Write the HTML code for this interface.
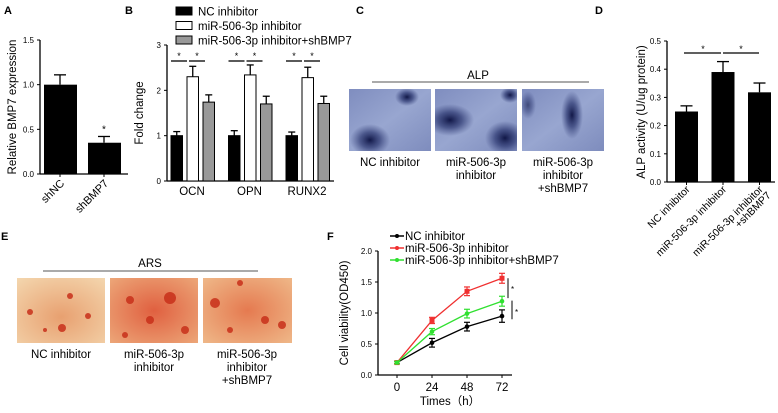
<!DOCTYPE html>
<html><head><meta charset="utf-8"><style>
body{margin:0;background:#fff;font-family:"Liberation Sans",sans-serif}
svg text{font-family:"Liberation Sans","Noto Sans CJK SC",sans-serif}
</style></head><body>
<svg id="fig" width="778" height="408" viewBox="0 0 778 408" xmlns="http://www.w3.org/2000/svg">
<defs>
<radialGradient id="blob"><stop offset="0" stop-color="#0a1040" stop-opacity="0.95"/><stop offset="0.5" stop-color="#1a2560" stop-opacity="0.6"/><stop offset="1" stop-color="#2a3570" stop-opacity="0"/></radialGradient>
<linearGradient id="blueBase" x1="0" y1="0" x2="1" y2="1"><stop offset="0" stop-color="#7f8dbf"/><stop offset="0.5" stop-color="#98a6d0"/><stop offset="1" stop-color="#7e8cbd"/></linearGradient>
<radialGradient id="redA" cx="0.5" cy="0.6" r="0.8"><stop offset="0" stop-color="#e8a070"/><stop offset="1" stop-color="#f4d8b0"/></radialGradient>
<radialGradient id="redB" cx="0.5" cy="0.5" r="0.8"><stop offset="0" stop-color="#e06040"/><stop offset="1" stop-color="#eeb080"/></radialGradient>
<radialGradient id="redC" cx="0.5" cy="0.5" r="0.8"><stop offset="0" stop-color="#e57a50"/><stop offset="1" stop-color="#f0c090"/></radialGradient>
<clipPath id="c1"><rect x="349" y="89" width="82" height="62"/></clipPath>
<clipPath id="c2"><rect x="435" y="89" width="82" height="62"/></clipPath>
<clipPath id="c3"><rect x="522" y="89" width="82" height="62"/></clipPath>
</defs>
<g font-weight="bold" font-size="11">
<text x="4" y="14">A</text>
<text x="125" y="14">B</text>
<text x="356" y="14">C</text>
<text x="595" y="14">D</text>
<text x="1" y="240">E</text>
<text x="327" y="240">F</text>
</g>
<g id="A"></g>
<g id="B"></g>
<g id="D"></g>
<g id="F"></g>
<g font-size="11.5" text-anchor="middle">
<text x="478" y="79">ALP</text>
<line x1="372" y1="82" x2="589" y2="82" stroke="#555" stroke-width="1"/>
<g clip-path="url(#c1)">
<rect x="349" y="89" width="82" height="62" fill="url(#blueBase)"/>
<ellipse cx="370" cy="140" rx="20" ry="16" fill="url(#blob)"/>
<ellipse cx="407" cy="97" rx="12" ry="9" fill="url(#blob)"/>
</g>
<g clip-path="url(#c2)">
<rect x="435" y="89" width="82" height="62" fill="url(#blueBase)"/>
<ellipse cx="450" cy="120" rx="24" ry="16" fill="url(#blob)"/>
<ellipse cx="505" cy="138" rx="20" ry="17" fill="url(#blob)"/>
<ellipse cx="510" cy="95" rx="10" ry="8" fill="url(#blob)"/>
</g>
<g clip-path="url(#c3)">
<rect x="522" y="89" width="82" height="62" fill="url(#blueBase)"/>
<ellipse cx="572" cy="115" rx="11" ry="24" fill="url(#blob)"/>
<ellipse cx="528" cy="105" rx="8" ry="14" fill="url(#blob)" opacity="0.6"/>
</g>
<text x="390" y="166">NC inhibitor</text>
<text x="476" y="166">miR-506-3p</text><text x="476" y="179">inhibitor</text>
<text x="563" y="166">miR-506-3p</text><text x="563" y="179">inhibitor</text><text x="563" y="192">+shBMP7</text>
</g>
<g font-size="11.5" text-anchor="middle">
<text x="150" y="267">ARS</text>
<line x1="43" y1="271" x2="258" y2="271" stroke="#555" stroke-width="1"/>
<rect x="17" y="278" width="88" height="65" fill="url(#redA)"/>
<rect x="110" y="278" width="88" height="65" fill="url(#redB)"/>
<rect x="203" y="278" width="89" height="65" fill="url(#redC)"/>
<g fill="#c8301a" opacity="0.85">
<circle cx="30" cy="312" r="3"/><circle cx="70" cy="296" r="3"/><circle cx="62" cy="328" r="4"/><circle cx="88" cy="316" r="3"/><circle cx="45" cy="330" r="2"/>
<circle cx="130" cy="300" r="4"/><circle cx="170" cy="298" r="6"/><circle cx="150" cy="320" r="4"/><circle cx="185" cy="330" r="4"/><circle cx="125" cy="335" r="3"/>
<circle cx="215" cy="303" r="5"/><circle cx="240" cy="283" r="3"/><circle cx="265" cy="320" r="4"/><circle cx="282" cy="325" r="4"/><circle cx="230" cy="330" r="3"/>
</g>
<text x="61" y="358">NC inhibitor</text>
<text x="154" y="358">miR-506-3p</text><text x="154" y="371">inhibitor</text>
<text x="247" y="358">miR-506-3p</text><text x="247" y="371">inhibitor</text><text x="247" y="384">+shBMP7</text>
</g>
</svg>
<script>
const NS='http://www.w3.org/2000/svg';
function mk(p,t,a,txt){const e=document.createElementNS(NS,t);for(const k in a)e.setAttribute(k,a[k]);if(txt!==undefined)e.textContent=txt;p.appendChild(e);return e;}

const aCats=['shNC','shBMP7'];
const aVals=[1.0,0.35];
const aErr=[0.11,0.07];
const aTicks=[0,0.5,1.0,1.5];
const aTickLabels=['0.0','0.5','1.0','1.5'];
const bCats=['OCN','OPN','RUNX2'];
const bSeries=['NC inhibitor','miR-506-3p inhibitor','miR-506-3p inhibitor+shBMP7'];
const bNC=[1.0,1.0,1.0];
const bMir=[2.3,2.34,2.28];
const bSh=[1.74,1.7,1.71];
const bNCErr=[0.09,0.11,0.08];
const bMirErr=[0.23,0.22,0.23];
const bShErr=[0.16,0.17,0.16];
const bTicks=[0,1,2,3];
const dCats=['NC inhibitor','miR-506-3p inhibitor','miR-506-3p inhibitor +shBMP7'];
const dVals=[0.25,0.39,0.318];
const dErr=[0.02,0.037,0.033];
const dTicks=[0,0.1,0.2,0.3,0.4,0.5];
const dTickLabels=['0.0','0.1','0.2','0.3','0.4','0.5'];
const fTimes=[0,24,48,72];
const fNC=[0.2,0.52,0.78,0.95];
const fMir=[0.2,0.88,1.35,1.56];
const fSh=[0.2,0.7,0.99,1.19];
const fNCErr=[0.02,0.07,0.07,0.1];
const fMirErr=[0.02,0.05,0.07,0.08];
const fShErr=[0.02,0.05,0.07,0.08];
const fTicks=[0,0.5,1.0,1.5,2.0];
const fTickLabels=['0.0','0.5','1.0','1.5','2.0'];

function errBar(g,x,y1,y2,hw){mk(g,'line',{x1:x,y1:y1,x2:x,y2:y2,stroke:'#000','stroke-width':1.3});mk(g,'line',{x1:x-hw,y1:y2,x2:x+hw,y2:y2,stroke:'#000','stroke-width':1.3});}

(function(){
const g=document.getElementById('A');
const y=v=>174-v/1.5*134;
mk(g,'line',{x1:40,y1:40,x2:40,y2:174,stroke:'#000','stroke-width':1.3});
mk(g,'line',{x1:40,y1:174,x2:128,y2:174,stroke:'#000','stroke-width':1.3});
aTicks.forEach((t,i)=>{mk(g,'line',{x1:37,y1:y(t),x2:40,y2:y(t),stroke:'#000'});mk(g,'text',{x:34,y:y(t)+3,'font-size':8,'text-anchor':'end'},aTickLabels[i]);});
mk(g,'text',{x:0,y:0,'font-size':11.5,'text-anchor':'middle',transform:'translate(16,107) rotate(-90)'},'Relative BMP7 expression');
aCats.forEach((c,i)=>{const cx=60+i*44;
 const r=mk(g,'rect',{x:cx-16,y:y(aVals[i]),width:33,height:174-y(aVals[i]),fill:'#000'});
 
 
 errBar(g,cx,y(aVals[i]),y(aVals[i]+aErr[i]),6);
 mk(g,'line',{x1:cx,y1:174,x2:cx,y2:177,stroke:'#000'});
 mk(g,'text',{x:0,y:0,'font-size':11,'text-anchor':'end',transform:`translate(${cx+5},${184}) rotate(-45)`},c);
});
mk(g,'text',{x:104,y:y(aVals[1]+aErr[1])-4,'font-size':10,'text-anchor':'middle'},'*');
})();

(function(){
const g=document.getElementById('B');
const y=v=>181-v/3*136;
mk(g,'line',{x1:167,y1:45,x2:167,y2:181,stroke:'#000','stroke-width':1.3});
mk(g,'line',{x1:167,y1:181,x2:334,y2:181,stroke:'#000','stroke-width':1.3});
bTicks.forEach(t=>{mk(g,'line',{x1:164,y1:y(t),x2:167,y2:y(t),stroke:'#000'});mk(g,'text',{x:161,y:y(t)+3,'font-size':8,'text-anchor':'end'},String(t));});
mk(g,'text',{x:0,y:0,'font-size':11.5,'text-anchor':'middle',transform:'translate(143,113) rotate(-90)'},'Fold change');
const fills=['#000','#fff','#999'];
bSeries.forEach((s,i)=>{const ly=11+i*14.5;
 mk(g,'rect',{x:176,y:ly-4,width:16,height:8,fill:fills[i],stroke:'#000','stroke-width':1});
 mk(g,'text',{x:198,y:ly+4.5,'font-size':11.5},s);});
const sets=[[bNC,bNCErr],[bMir,bMirErr],[bSh,bShErr]];
bCats.forEach((c,ci)=>{const x0=171+ci*57.5;
 sets.forEach((sv,si)=>{const x=x0+si*16;const v=sv[0][ci];
  const r=mk(g,'rect',{x:x,y:y(v),width:11.5,height:181-y(v),fill:fills[si],stroke:'#000','stroke-width':1});
  
  
  errBar(g,x+5.75,y(v),y(v+sv[1][ci]),3.5);
 });
 mk(g,'text',{x:x0+21,y:195,'font-size':11.5,'text-anchor':'middle'},c);
 const ly=61;
 mk(g,'line',{x1:x0,y1:ly,x2:x0+16,y2:ly,stroke:'#000','stroke-width':1.3});
 mk(g,'line',{x1:x0+18,y1:ly,x2:x0+34,y2:ly,stroke:'#000','stroke-width':1.3});
 mk(g,'text',{x:x0+8,y:ly-2,'font-size':9,'text-anchor':'middle'},'*');
 mk(g,'text',{x:x0+26,y:ly-2,'font-size':9,'text-anchor':'middle'},'*');
});
})();

(function(){
const g=document.getElementById('D');
const y=v=>182-v/0.5*141;
mk(g,'line',{x1:667,y1:41,x2:667,y2:182,stroke:'#000','stroke-width':1.3});
mk(g,'line',{x1:667,y1:182,x2:775,y2:182,stroke:'#000','stroke-width':1.3});
dTicks.forEach((t,i)=>{mk(g,'line',{x1:664,y1:y(t),x2:667,y2:y(t),stroke:'#000'});mk(g,'text',{x:661,y:y(t)+3,'font-size':8,'text-anchor':'end'},dTickLabels[i]);});
mk(g,'text',{x:0,y:0,'font-size':11.5,'text-anchor':'middle',transform:'translate(645,112) rotate(-90)'},'ALP activity (U/ug protein)');
dCats.forEach((c,i)=>{const cx=686.5+i*36.5;
 const r=mk(g,'rect',{x:cx-11.5,y:y(dVals[i]),width:23,height:182-y(dVals[i]),fill:'#000'});
 
 
 errBar(g,cx,y(dVals[i]),y(dVals[i]+dErr[i]),6);
 mk(g,'line',{x1:cx,y1:182,x2:cx,y2:185,stroke:'#000'});
 if(i<2){mk(g,'text',{x:0,y:0,'font-size':10.5,'text-anchor':'end',transform:`translate(${cx+4},${190}) rotate(-45)`},c);}
 else{mk(g,'text',{x:0,y:0,'font-size':10.5,'text-anchor':'end',transform:`translate(${cx+4},${190}) rotate(-45)`},'miR-506-3p inhibitor');
  mk(g,'text',{x:0,y:0,'font-size':10.5,'text-anchor':'end',transform:`translate(${cx+12},${196}) rotate(-45)`},'+shBMP7');}
});
mk(g,'line',{x1:684,y1:53,x2:721,y2:53,stroke:'#000','stroke-width':1.2});
mk(g,'line',{x1:723,y1:53,x2:759,y2:53,stroke:'#000','stroke-width':1.2});
mk(g,'text',{x:703,y:52,'font-size':9,'text-anchor':'middle'},'*');
mk(g,'text',{x:741,y:52,'font-size':9,'text-anchor':'middle'},'*');
})();

(function(){
const g=document.getElementById('F');
const y=v=>375-v/2*124;
const x=t=>397+t/72*105;
mk(g,'line',{x1:378,y1:251,x2:378,y2:375,stroke:'#000','stroke-width':1.3});
mk(g,'line',{x1:378,y1:375,x2:512,y2:375,stroke:'#000','stroke-width':1.3});
fTicks.forEach((t,i)=>{mk(g,'line',{x1:375,y1:y(t),x2:378,y2:y(t),stroke:'#000'});mk(g,'text',{x:372,y:y(t)+3,'font-size':8,'text-anchor':'end'},fTickLabels[i]);});
fTimes.forEach(t=>{mk(g,'line',{x1:x(t),y1:375,x2:x(t),y2:378,stroke:'#000'});mk(g,'text',{x:x(t),y:391,'font-size':11.5,'text-anchor':'middle'},String(t));});
mk(g,'text',{x:450,y:405,'font-size':11.5,'text-anchor':'middle'},'Times（h）');
mk(g,'text',{x:0,y:0,'font-size':11.5,'text-anchor':'middle',transform:'translate(348,313) rotate(-90)'},'Cell viability(OD450)');
const series=[['NC inhibitor',fNC,fNCErr,'#000','c'],['miR-506-3p inhibitor',fMir,fMirErr,'#f03030','s'],['miR-506-3p inhibitor+shBMP7',fSh,fShErr,'#30e030','t']];
series.forEach((s,si)=>{const ly=236+si*12;
 mk(g,'line',{x1:390,y1:ly,x2:404,y2:ly,stroke:s[3],'stroke-width':1.5});
 mk(g,'circle',{cx:397,cy:ly,r:2,fill:s[3]});
 mk(g,'text',{x:405,y:ly+4,'font-size':11.5},s[0]);
 const pts=fTimes.map((t,i)=>x(t)+','+y(s[1][i])).join(' ');
 const pl=mk(g,'polyline',{points:pts,fill:'none',stroke:s[3],'stroke-width':1.3});
 
 
 fTimes.forEach((t,i)=>{const v=s[1][i],e=s[2][i];
  mk(g,'line',{x1:x(t),y1:y(v-e),x2:x(t),y2:y(v+e),stroke:s[3],'stroke-width':1.2});
  mk(g,'line',{x1:x(t)-3,y1:y(v-e),x2:x(t)+3,y2:y(v-e),stroke:s[3],'stroke-width':1.2});
  mk(g,'line',{x1:x(t)-3,y1:y(v+e),x2:x(t)+3,y2:y(v+e),stroke:s[3],'stroke-width':1.2});
  if(s[4]==='s')mk(g,'rect',{x:x(t)-2.5,y:y(v)-2.5,width:5,height:5,fill:s[3]});
  else mk(g,'circle',{cx:x(t),cy:y(v),r:2.3,fill:s[3]});
 });
});
mk(g,'line',{x1:508,y1:y(1.56),x2:508,y2:y(1.24),stroke:'#000','stroke-width':1});
mk(g,'text',{x:511,y:y(1.4)+4,'font-size':8},'*');
mk(g,'line',{x1:512,y1:y(1.2),x2:512,y2:y(0.9),stroke:'#000','stroke-width':1});
mk(g,'text',{x:515,y:y(1.05)+5,'font-size':8},'*');
})();
</script>
</body></html>
